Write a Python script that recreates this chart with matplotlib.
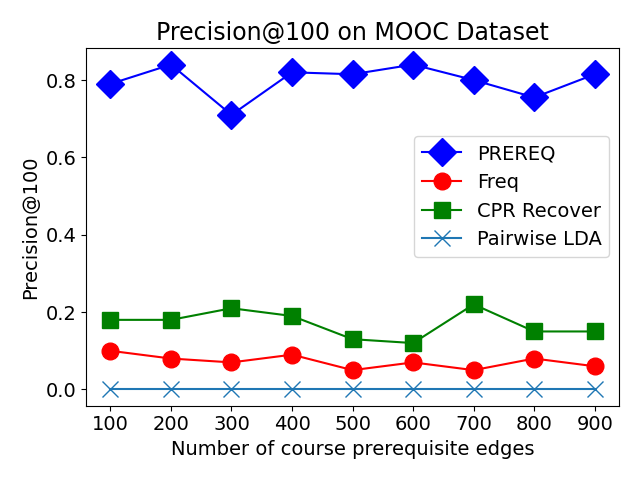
import matplotlib
matplotlib.use("Agg")
import matplotlib.pyplot as plt

edges = [100, 200, 300, 400, 500, 600, 700, 800, 900]
prereq = [0.79, 0.84, 0.71, 0.82, 0.815, 0.84, 0.80, 0.755, 0.815]
freq = [0.10, 0.08, 0.07, 0.09, 0.05, 0.07, 0.05, 0.08, 0.06]
cpr = [0.18, 0.18, 0.21, 0.19, 0.13, 0.12, 0.22, 0.15, 0.15]
lda = [0, 0, 0, 0, 0, 0, 0, 0, 0]

plt.rcParams['font.size'] = 14
fig, ax = plt.subplots(figsize=(6.4, 4.8), dpi=100)
ax.plot(edges, prereq, 'bD-', markersize=14, label='PREREQ')
ax.plot(edges, freq, 'ro-', markersize=12, label='Freq')
ax.plot(edges, cpr, 'gs-', markersize=12, label='CPR Recover')
ax.plot(edges, lda, 'x-', color='#1f77b4', markersize=12, label='Pairwise LDA')
ax.set_xticks(edges)
ax.set_xlabel('Number of course prerequisite edges')
ax.set_ylabel('Precision@100')
ax.set_title('Precision@100 on MOOC Dataset', fontsize=17)
ax.legend(loc='center right', bbox_to_anchor=(1.0, 0.585))
fig.tight_layout()
fig.savefig('out.png')
